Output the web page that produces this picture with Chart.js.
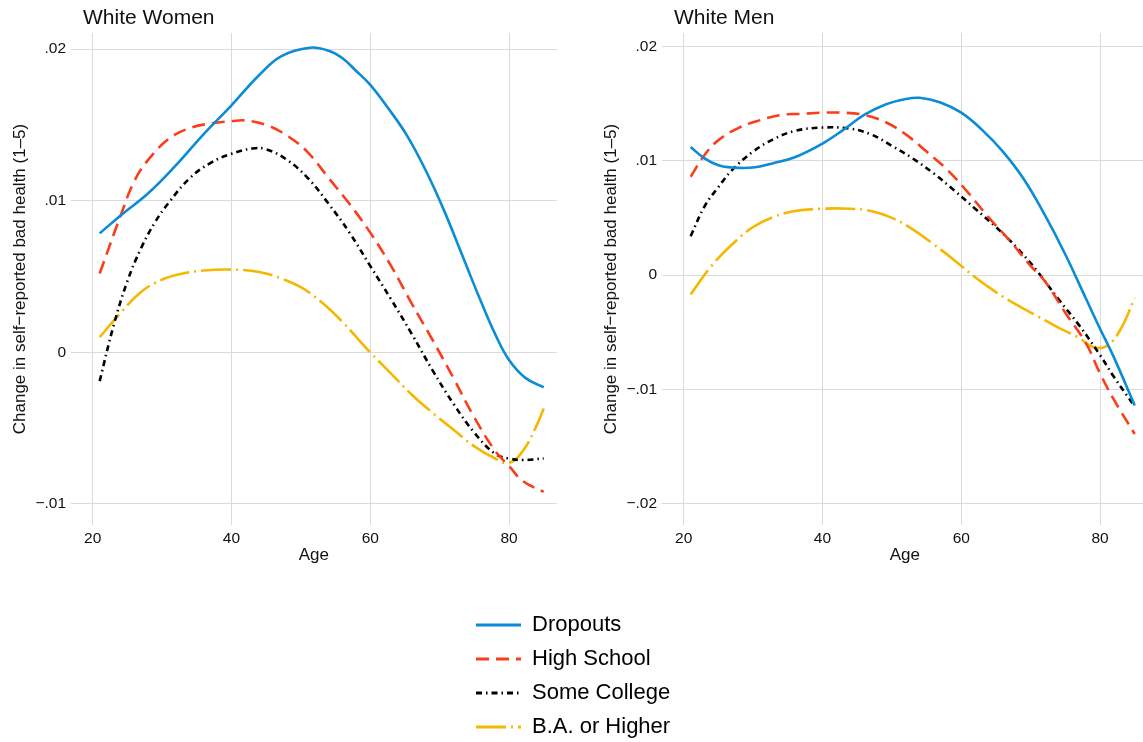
<!DOCTYPE html>
<html>
<head>
<meta charset="utf-8">
<title>Self-reported bad health by age</title>
<script src="https://cdn.jsdelivr.net/npm/chart.js@4.4.1/dist/chart.umd.min.js"></script>
<style>
  html, body { margin: 0; padding: 0; background: #fff; width: 1143px; height: 742px; overflow: hidden; }
  .panel { position: absolute; top: 0; width: 570px; height: 580px; }
  #women-box { left: 0; }
  #men-box { left: 591px; }
  #legend-box { position: absolute; left: 464px; top: 602px; width: 500px; height: 180px; }
</style>
</head>
<body>
<div class="panel" id="women-box"><canvas id="women-chart"></canvas></div>
<div class="panel" id="men-box"><canvas id="men-chart"></canvas></div>
<div id="legend-box"><canvas id="legend-chart"></canvas></div>
<script>
// categories + axis ticks
var seriesNames = ['Dropouts', 'High School', 'Some College', 'B.A. or Higher'];
var ageTicks = [20, 40, 60, 80];
var womenTicks = [-0.01, 0, 0.01, 0.02];
var menTicks = [-0.02, -0.01, 0, 0.01, 0.02];

// [age, change] - White Women
var womenDropouts = [[21,.00785],[24.2,.0091],[28,.0105],[31.7,.0122],[36,.0144],[40,.0163],[44,.0183],[47.2,.01955],[51.3,.0201],[54,.0199],[56,.0194],[58,.01855],[60,.01765],[62.6,.0161],[65.3,.0143],[68,.0120],[70.6,.0094],[73.3,.00635],[76,.0033],[78.1,.0011],[80,-.0005],[82.4,-.0017],[85,-.0023]];
var womenHighSchool = [[21,.0052],[24,.0090],[26,.0113],[28,.0127],[31,.0141],[34,.0148],[37,.0151],[40,.01525],[42,.0153],[45,.0150],[48,.0143],[51,.0132],[54,.0115],[57,.0098],[60,.0079],[63,.0057],[66,.0032],[69,.0008],[72,-.0017],[75,-.0043],[78,-.0065],[80,-.0075],[82,-.0085],[85,-.0092]];
var womenSomeCollege = [[21,-.0019],[23,.00175],[25,.0047],[27,.0069],[29,.0086],[31,.0099],[34,.0115],[37,.0125],[40,.0131],[43,.01345],[45,.0134],[48,.0127],[51,.0115],[54,.0098],[57,.0079],[60,.0057],[63,.0035],[66,.0012],[69,-.0012],[72,-.0034],[75,-.0053],[78,-.0067],[80,-.0070],[82,-.0071],[85,-.0070]];
var womenBA = [[21,.0010],[24,.0026],[27,.0040],[30,.0048],[33,.0052],[36,.0054],[40,.00546],[44,.0053],[47,.0049],[50,.0043],[53,.0033],[56,.0020],[60,.0000],[63,-.0014],[66,-.0028],[69,-.0040],[72,-.0051],[75,-.0062],[78,-.0070],[80,-.0073],[82,-.0065],[84,-.0048],[85,-.0037]];

// White Men
var menDropouts = [[21,.0112],[23,.0102],[25,.0096],[27,.0094],[30,.0094],[33,.0098],[36,.0103],[40,.0115],[43,.0127],[46,.0140],[49,.0149],[52,.0154],[54,.0155],[57,.0151],[60,.0142],[63,.0127],[66,.0108],[69,.0084],[72,.0053],[75,.0018],[78,-.0021],[80,-.0047],[82,-.0072],[85,-.0114]];
var menHighSchool = [[21,.0086],[23,.0105],[25,.0118],[28,.0129],[31,.01355],[34,.0140],[37,.0141],[40,.0142],[43,.0142],[46,.0140],[49,.0134],[52,.0123],[55,.0108],[58,.0092],[61,.0072],[64,.0050],[67,.0030],[70,.0008],[72,-.0005],[75,-.0033],[78,-.0060],[80,-.0086],[82,-.0109],[85,-.0139]];
var menSomeCollege = [[21,.0034],[23,.0060],[25,.0077],[27,.0092],[30,.0108],[33,.0119],[36,.0126],[40,.0129],[44,.0128],[47,.0123],[50,.0113],[53,.0102],[56,.0089],[59,.0074],[62,.0058],[65,.0042],[68,.0024],[71,.0003],[74,-.0021],[77,-.0044],[80,-.0070],[82,-.0089],[85,-.0115]];
var menBA = [[21,-.0017],[24,.0008],[27,.0027],[30,.0042],[33,.0051],[36,.0056],[40,.0058],[44,.0058],[47,.0056],[50,.0050],[53,.0040],[56,.0027],[59,.0013],[62,-.0002],[65,-.0015],[68,-.0026],[71,-.0036],[74,-.0046],[77,-.0055],[79,-.0063],[81,-.0062],[83,-.0047],[85,-.0020]];

var lineColors = ['#0a8cd6', '#fc3d1c', '#000000', '#f4b800'];
var lineDashes = [[], [13, 7], [6, 4, 1.5, 4], [30, 5, 2, 5]];

Chart.defaults.font.family = '"Liberation Sans", Arial, Helvetica, sans-serif';
Chart.defaults.color = '#111';

// draws the panel heading a bit right of the plot's left edge
var panelTitle = {
    id: 'panelTitle',
    afterDraw: function(chart, args, opts) {
        var ctx = chart.ctx;
        ctx.save();
        ctx.font = '21px "Liberation Sans", Arial, sans-serif';
        ctx.fillStyle = '#111';
        ctx.textBaseline = 'alphabetic';
        ctx.fillText(opts.text, chart.chartArea.left + 12, 24);
        ctx.restore();
    }
};

function fmtTick(v) {
    if (Math.abs(v) < 1e-9) return '0';
    var s = Math.abs(v).toFixed(2).replace(/^0/, '');
    return (v < 0 ? '\u2212' : '') + s;
}

function toPoints(pairs) {
    return pairs.map(function(p) { return {x: p[0], y: p[1]}; });
}

function makeDatasets(seriesList) {
    return seriesList.map(function(pairs, i) {
        return {
            label: seriesNames[i],
            data: toPoints(pairs),
            borderColor: lineColors[i],
            backgroundColor: lineColors[i],
            borderDash: lineDashes[i],
            borderWidth: 2.6,
            pointRadius: 0,
            fill: false,
            tension: 0.4
        };
    });
}

function makePanel(canvasId, title, seriesList, yTicks, yMin, yMax) {
    var ctx = document.getElementById(canvasId).getContext('2d');
    return new Chart(ctx, {
        type: 'line',
        data: { datasets: makeDatasets(seriesList) },
        plugins: [panelTitle],
        options: {
            responsive: true,
            maintainAspectRatio: false,
            animation: false,
            layout: { padding: { left: 0, top: 33, right: 13.3, bottom: 0 } },
            plugins: {
                legend: { display: false },
                tooltip: { enabled: false },
                panelTitle: { text: title }
            },
            scales: {
                x: {
                    type: 'linear',
                    min: 16.87,
                    max: 86.87,
                    afterBuildTicks: function(scale) {
                        scale.ticks = ageTicks.map(function(v) { return {value: v}; });
                    },
                    afterFit: function(scale) { scale.height = 55; },
                    grid: { color: '#dadada', lineWidth: 1, drawTicks: false },
                    border: { display: false },
                    ticks: { font: { size: 15.5 }, color: '#111', padding: 4, maxRotation: 0 },
                    title: { display: true, text: 'Age', font: { size: 17 }, color: '#111', padding: { top: 0, bottom: 14 } }
                },
                y: {
                    type: 'linear',
                    min: yMin,
                    max: yMax,
                    afterBuildTicks: function(scale) {
                        scale.ticks = yTicks.map(function(v) { return {value: v}; });
                    },
                    afterFit: function(scale) { scale.width = 71; },
                    grid: { color: '#dadada', lineWidth: 1, drawTicks: false },
                    border: { display: false },
                    ticks: { font: { size: 15.5 }, color: '#111', padding: 5, callback: fmtTick },
                    title: { display: true, text: 'Change in self\u2212reported bad health (1\u20135)', font: { size: 17 }, color: '#111', padding: { top: 10, bottom: 0 } }
                }
            }
        }
    });
}

makePanel('women-chart', 'White Women', [womenDropouts, womenHighSchool, womenSomeCollege, womenBA], womenTicks, -0.01139, 0.02107);
makePanel('men-chart', 'White Men', [menDropouts, menHighSchool, menSomeCollege, menBA], menTicks, -0.02186, 0.02117);

// shared legend under both panels
var legendChart = new Chart(document.getElementById('legend-chart').getContext('2d'), {
    type: 'line',
    data: { datasets: makeDatasets([[], [], [], []]) },
    options: {
        responsive: true,
        maintainAspectRatio: false,
        animation: false,
        layout: { padding: 0 },
        scales: { x: { display: false }, y: { display: false } },
        plugins: {
            tooltip: { enabled: false },
            legend: {
                position: 'left',
                align: 'start',
                maxWidth: 400,
                labels: {
                    usePointStyle: true,
                    pointStyleWidth: 45,
                    padding: 12,
                    color: '#111',
                    font: { size: 22 },
                    // keep the dash pattern of each series in its legend sample
                    generateLabels: function(chart) {
                        return chart.data.datasets.map(function(ds, i) {
                            return {
                                text: ds.label,
                                fillStyle: ds.borderColor,
                                strokeStyle: ds.borderColor,
                                lineWidth: 3,
                                lineDash: ds.borderDash,
                                pointStyle: 'line',
                                hidden: false,
                                datasetIndex: i
                            };
                        });
                    }
                }
            }
        }
    }
});
</script>
</body>
</html>
